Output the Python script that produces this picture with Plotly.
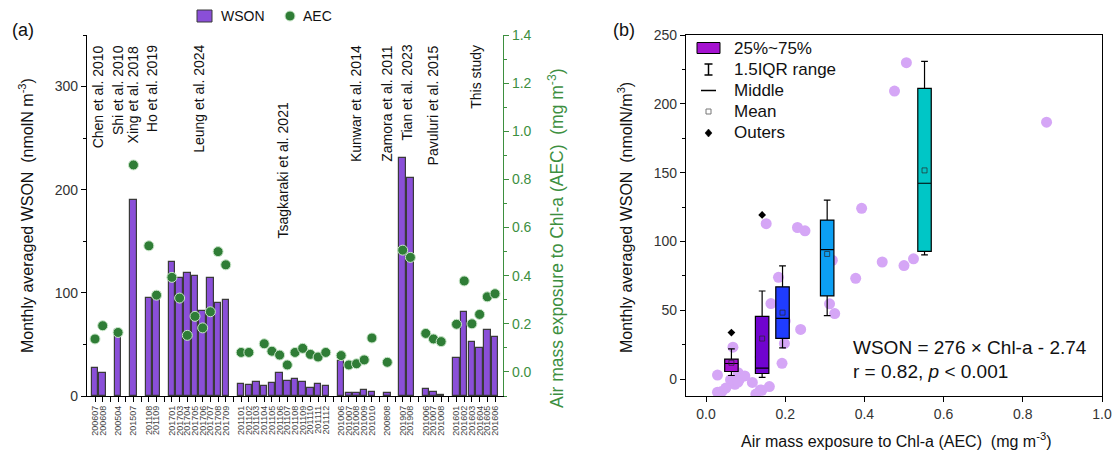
import numpy as np
import plotly.graph_objects as go

W, H = 1115, 454

# ---------------- data ----------------
studies = ["Chen et al. 2010", "Shi et al. 2010", "Xing et al. 2018", "Ho et al. 2019",
           "Leung et al. 2024", "Tsagkaraki et al. 2021", "Kunwar et al. 2014",
           "Zamora et al. 2011", "Tian et al. 2023", "Pavuluri et al. 2015", "This study"]

months = [
    ["200607", "200608"],
    ["200504"],
    ["201507"],
    ["201108", "201109"],
    ["201701", "201703", "201704", "201705", "201706", "201707", "201708", "201709"],
    ["201101", "201102", "201103", "201104", "201105", "201106",
     "201107", "201108", "201109", "201110", "201111", "201112"],
    ["201006", "201007", "201008", "201009", "201010"],
    ["200808"],
    ["201907", "201908"],
    ["201006", "201007", "201008"],
    ["201601", "201602", "201603", "201604", "201605", "201606"],
]

wson = [
    [27.0, 22.6],
    [64.0],
    [189.6],
    [95.0, 94.0],
    [130.0, 114.4, 119.3, 116.7, 82.2, 114.4, 90.3, 92.8],
    [11.3, 10.6, 13.2, 9.4, 12.3, 21.9, 14.5, 16.1, 13.9, 8.1, 11.3, 9.7],
    [33.8, 2.6, 2.6, 5.5, 3.9],
    [3.2],
    [230.8, 211.2],
    [6.5, 4.2, 1.3],
    [36.4, 81.5, 51.9, 46.1, 63.8, 57.1],
]

aec = [
    [0.137, 0.192],
    [0.164],
    [0.860],
    [0.524, 0.319],
    [0.393, 0.307, 0.152, 0.231, 0.183, 0.250, 0.500, 0.445],
    [0.081, 0.081, None, 0.117, 0.086, 0.070, 0.029, 0.081, 0.098, 0.073, 0.062, 0.081],
    [0.068, 0.029, 0.034, 0.050, 0.141],
    [0.040],
    [0.506, 0.476],
    [0.160, 0.137, 0.126],
    [0.198, 0.378, 0.200, 0.239, 0.312, 0.325],
]

aec_bin_edges = [0.0, 0.10, 0.17, 0.22, 0.40, 1.0]
box_colors = ["#a512d0", "#7004cf", "#1f3cff", "#0c9ff3", "#00c6c6"]

right_ticks = [0.0, 0.2, 0.4, 0.6, 0.8, 1.0, 1.2, 1.4]
left_ticks = [0, 100, 200, 300]
b_xticks = [0.0, 0.2, 0.4, 0.6, 0.8, 1.0]
b_yticks = [0, 50, 100, 150, 200, 250]

# label vertical placement (px from top)
label_top_px = {"Tsagkaraki et al. 2021": 100}

# ---------------- helpers ----------------
def px(x):
    return x / W

def py(y):
    return 1 - y / H

FONT = "Liberation Sans, Arial, sans-serif"
GREEN = "#3d8f3f"
DOT = "#2f7d36"
BAR = "#8a4fd8"

# ---------------- build slots ----------------
slot_pos, flat_w, flat_a = [], [], []
tickvals, ticktext, centers = [], [], []
pos = 0
for g, ms in enumerate(months):
    if g > 0:
        tickvals.append(pos)
        ticktext.append(" ")
        pos += 1
    start = pos
    for m, wv, av in zip(ms, wson[g], aec[g]):
        slot_pos.append(pos)
        flat_w.append(wv)
        flat_a.append(av)
        tickvals.append(pos)
        ticktext.append(m)
        pos += 1
    centers.append((start + pos - 1) / 2)
nslots = pos

fig = go.Figure()

# panel (a) bars
fig.add_trace(go.Bar(x=slot_pos, y=flat_w, width=0.84,
                     marker=dict(color=BAR, line=dict(color="#3a3a3a", width=1.2)),
                     xaxis="x", yaxis="y", showlegend=False))
# panel (a) dots
dx = [p for p, a in zip(slot_pos, flat_a) if a is not None]
dy = [a for a in flat_a if a is not None]
fig.add_trace(go.Scatter(x=dx, y=dy, mode="markers",
                         marker=dict(size=10, color=DOT, line=dict(color="#c9e6c9", width=1)),
                         xaxis="x", yaxis="y2", showlegend=False))

# panel (b) scatter
pa = np.array([a for a in flat_a if a is not None])
pw = np.array([w for w, a in zip(flat_w, flat_a) if a is not None])
fig.add_trace(go.Scatter(x=pa, y=pw, mode="markers",
                         marker=dict(size=11, color="#d5a6f6"),
                         xaxis="x2", yaxis="y3", showlegend=False))

# panel (b) boxes
for i in range(len(aec_bin_edges) - 1):
    lo, hi = aec_bin_edges[i], aec_bin_edges[i + 1]
    m = (pa >= lo) & (pa < hi)
    vals = pw[m]
    xc = float(pa[m].mean())
    fig.add_trace(go.Box(y=vals, x0=xc, width=0.034, quartilemethod="exclusive",
                         fillcolor=box_colors[i], line=dict(color="black", width=1.2),
                         whiskerwidth=0.5, boxpoints="outliers", pointpos=0, jitter=0,
                         marker=dict(symbol="diamond", color="black", size=6),
                         xaxis="x2", yaxis="y4", showlegend=False, hoverinfo="skip"))
    fig.add_trace(go.Scatter(x=[xc], y=[float(vals.mean())], mode="markers",
                             marker=dict(symbol="square-open", size=5,
                                         color="rgba(40,40,40,0.7)", line=dict(width=1)),
                             xaxis="x2", yaxis="y4", showlegend=False))

ydom = [py(396), py(35)]
axis_common = dict(showgrid=False, zeroline=False, ticks="outside", ticklen=5,
                   tickwidth=1, showline=True, linewidth=1.2, automargin=False)

fig.update_layout(
    width=W, height=H, margin=dict(l=0, r=0, t=0, b=0, pad=0, autoexpand=False),
    paper_bgcolor="white", plot_bgcolor="rgba(0,0,0,0)",
    font=dict(family=FONT, color="#222"),
    bargap=0,
    xaxis=dict(domain=[px(87), px(503)], range=[-1.04, nslots - 1 + 1.04], anchor="y",
               tickmode="array", tickvals=tickvals, ticktext=ticktext, tickangle=-90,
               tickfont=dict(size=9, color="#444"), tickcolor="black", linecolor="black",
               **axis_common),
    yaxis=dict(domain=ydom, range=[0, 350], anchor="x", tickmode="array", tickvals=left_ticks,
               tickfont=dict(size=14, color="#333"), tickcolor="black", linecolor="black",
               minor=dict(tickmode="linear", tick0=0, dtick=50, ticks="outside", ticklen=3,
                          tickcolor="black"),
               **axis_common),
    yaxis2=dict(overlaying="y", side="right", anchor="x", range=[-0.1, 1.4],
                tickmode="array", tickvals=right_ticks, ticktext=[f"{v:.1f}" for v in right_ticks],
                tickfont=dict(size=14, color=GREEN), tickcolor=GREEN, linecolor=GREEN,
                minor=dict(tickmode="linear", tick0=0, dtick=0.1, ticks="outside", ticklen=3,
                           tickcolor=GREEN),
                **axis_common),
    xaxis2=dict(domain=[px(686), px(1102)], range=[-0.0505, 1.0], anchor="y3",
                tickmode="array", tickvals=b_xticks, ticktext=[f"{v:.1f}" for v in b_xticks],
                tickfont=dict(size=14, color="#333"), tickcolor="black", linecolor="black",
                mirror=True, **axis_common),
    yaxis3=dict(domain=ydom, range=[0, 250], anchor="x2", visible=False, automargin=False),
    yaxis4=dict(overlaying="y3", side="left", anchor="x2", range=[-12.3, 250],
                tickmode="array", tickvals=b_yticks,
                tickfont=dict(size=14, color="#333"), tickcolor="black", linecolor="black",
                mirror=True,
                minor=dict(tickmode="linear", tick0=0, dtick=25, ticks="outside", ticklen=3,
                           tickcolor="black"),
                **axis_common),
)

ann = []
shapes = []
# study labels
for name, c in zip(studies, centers):
    ann.append(dict(text=name, x=c, xref="x", y=py(label_top_px.get(name, 43)), yref="paper",
                    yanchor="top", xanchor="center", textangle=-90, showarrow=False,
                    font=dict(size=14, color="#111")))
# panel labels
ann.append(dict(text="(a)", x=px(10), y=py(30), xref="paper", yref="paper", xanchor="left",
                yanchor="middle", showarrow=False, font=dict(size=18, color="#111")))
ann.append(dict(text="(b)", x=px(611), y=py(30), xref="paper", yref="paper", xanchor="left",
                yanchor="middle", showarrow=False, font=dict(size=18, color="#111")))
# axis titles
ann.append(dict(text="Monthly averaged WSON  (nmolN m<sup>-3</sup>)", x=px(26), y=py(216),
                xref="paper", yref="paper", xanchor="center", yanchor="middle",
                textangle=-90, showarrow=False, font=dict(size=16, color="#111")))
ann.append(dict(text="Air mass exposure to Chl-a (AEC)  (mg m<sup>-3</sup>)", x=px(556), y=py(238),
                xref="paper", yref="paper", xanchor="center", yanchor="middle",
                textangle=-90, showarrow=False, font=dict(size=17.5, color=GREEN)))
ann.append(dict(text="Monthly averaged WSON  (nmolN/m<sup>3</sup>)", x=px(625), y=py(218),
                xref="paper", yref="paper", xanchor="center", yanchor="middle",
                textangle=-90, showarrow=False, font=dict(size=16, color="#111")))
ann.append(dict(text="Air mass exposure to Chl-a (AEC)  (mg m<sup>-3</sup>)", x=px(896), y=py(440),
                xref="paper", yref="paper", xanchor="center", yanchor="middle",
                showarrow=False, font=dict(size=16, color="#111")))
# equation
ann.append(dict(text="WSON = 276 × Chl-a - 2.74", x=px(851), y=py(347), xref="paper",
                yref="paper", xanchor="left", yanchor="middle", showarrow=False,
                font=dict(size=19, color="#111")))
ann.append(dict(text="r = 0.82, <i>p</i> &lt; 0.001", x=px(851), y=py(371), xref="paper",
                yref="paper", xanchor="left", yanchor="middle", showarrow=False,
                font=dict(size=19, color="#111")))

# panel (a) legend
shapes.append(dict(type="rect", xref="paper", yref="paper", x0=px(197), x1=px(212),
                   y0=py(22), y1=py(10), fillcolor=BAR, line=dict(color="#3a3a3a", width=1)))
ann.append(dict(text="WSON", x=px(219), y=py(16), xref="paper", yref="paper", xanchor="left",
                yanchor="middle", showarrow=False, font=dict(size=14, color="#111")))
shapes.append(dict(type="circle", xref="paper", yref="paper", x0=px(285), x1=px(295),
                   y0=py(21), y1=py(11), fillcolor=DOT, line=dict(color="#c9e6c9", width=1)))
ann.append(dict(text="AEC", x=px(301), y=py(16), xref="paper", yref="paper", xanchor="left",
                yanchor="middle", showarrow=False, font=dict(size=14, color="#111")))

# panel (b) legend
leg_rows = [48, 69.5, 90.5, 111.5, 133]
leg_text = ["25%~75%", "1.5IQR range", "Middle", "Mean", "Outers"]
cx = 708.5
shapes.append(dict(type="rect", xref="paper", yref="paper", x0=px(697), x1=px(720),
                   y0=py(53.5), y1=py(42.5), fillcolor=box_colors[0],
                   line=dict(color="black", width=1)))
r = leg_rows[1]
shapes.append(dict(type="line", xref="paper", yref="paper", x0=px(cx), x1=px(cx),
                   y0=py(r - 5.5), y1=py(r + 5.5), line=dict(color="black", width=1.5)))
for yy in (r - 5.5, r + 5.5):
    shapes.append(dict(type="line", xref="paper", yref="paper", x0=px(cx - 4), x1=px(cx + 4),
                       y0=py(yy), y1=py(yy), line=dict(color="black", width=1.5)))
r = leg_rows[2]
shapes.append(dict(type="line", xref="paper", yref="paper", x0=px(701), x1=px(716),
                   y0=py(r), y1=py(r), line=dict(color="black", width=1.5)))
r = leg_rows[3]
shapes.append(dict(type="rect", xref="paper", yref="paper", x0=px(cx - 2.5), x1=px(cx + 2.5),
                   y0=py(r + 2.5), y1=py(r - 2.5), line=dict(color="#777", width=1)))
r = leg_rows[4]
shapes.append(dict(type="path", xref="paper", yref="paper",
                   path=f"M {px(cx)} {py(r-4)} L {px(cx+3.5)} {py(r)} L {px(cx)} {py(r+4)} L {px(cx-3.5)} {py(r)} Z",
                   fillcolor="black", line=dict(color="black", width=0.5)))
for rr, tt in zip(leg_rows, leg_text):
    ann.append(dict(text=tt, x=px(732), y=py(rr), xref="paper", yref="paper", xanchor="left",
                    yanchor="middle", showarrow=False, font=dict(size=17, color="#111")))

fig.update_layout(annotations=ann, shapes=shapes)
fig.write_html("out.html", config={"displayModeBar": False},
               post_script="document.body.style.margin='0';document.body.style.overflow='hidden';")
